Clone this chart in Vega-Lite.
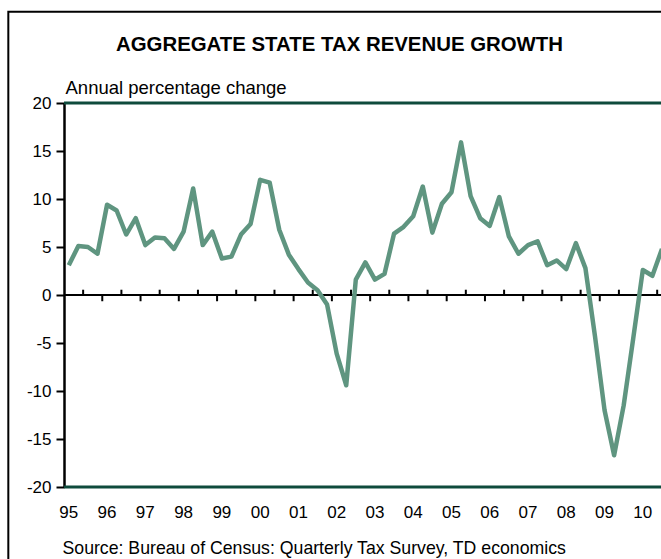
{
  "$schema": "https://vega.github.io/schema/vega-lite/v6.json",
  "autosize": "none",
  "width": 597,
  "height": 384,
  "padding": {"left": 64, "top": 103, "right": 0, "bottom": 72},
  "background": "white",
  "config": {
    "font": "Liberation Sans",
    "view": {"stroke": null},
    "axis": {"labelColor": "black", "titleColor": "black", "labelFont": "Liberation Sans", "titleFont": "Liberation Sans"}
  },
  "title": {
    "text": "AGGREGATE STATE TAX REVENUE GROWTH",
    "font": "Liberation Sans",
    "fontSize": 20.4,
    "fontWeight": "bold",
    "color": "black",
    "anchor": "middle",
    "frame": "group",
    "dx": -23,
    "baseline": "alphabetic",
    "offset": -61
  },
  "datasets": {
    "tax": [
      {"t": 1995.125, "v": 3.1}, {"t": 1995.375, "v": 5.1}, {"t": 1995.625, "v": 5.0}, {"t": 1995.875, "v": 4.3},
      {"t": 1996.125, "v": 9.4}, {"t": 1996.375, "v": 8.8}, {"t": 1996.625, "v": 6.3}, {"t": 1996.875, "v": 8.0},
      {"t": 1997.125, "v": 5.2}, {"t": 1997.375, "v": 6.0}, {"t": 1997.625, "v": 5.9}, {"t": 1997.875, "v": 4.8},
      {"t": 1998.125, "v": 6.6}, {"t": 1998.375, "v": 11.1}, {"t": 1998.625, "v": 5.2}, {"t": 1998.875, "v": 6.6},
      {"t": 1999.125, "v": 3.8}, {"t": 1999.375, "v": 4.0}, {"t": 1999.625, "v": 6.3}, {"t": 1999.875, "v": 7.4},
      {"t": 2000.125, "v": 12.0}, {"t": 2000.375, "v": 11.7}, {"t": 2000.625, "v": 6.8}, {"t": 2000.875, "v": 4.2},
      {"t": 2001.125, "v": 2.7}, {"t": 2001.375, "v": 1.3}, {"t": 2001.625, "v": 0.5}, {"t": 2001.875, "v": -1.0},
      {"t": 2002.125, "v": -6.1}, {"t": 2002.375, "v": -9.4}, {"t": 2002.625, "v": 1.6}, {"t": 2002.875, "v": 3.4},
      {"t": 2003.125, "v": 1.6}, {"t": 2003.375, "v": 2.2}, {"t": 2003.625, "v": 6.4}, {"t": 2003.875, "v": 7.1},
      {"t": 2004.125, "v": 8.2}, {"t": 2004.375, "v": 11.3}, {"t": 2004.625, "v": 6.5}, {"t": 2004.875, "v": 9.5},
      {"t": 2005.125, "v": 10.7}, {"t": 2005.375, "v": 15.9}, {"t": 2005.625, "v": 10.3}, {"t": 2005.875, "v": 8.0},
      {"t": 2006.125, "v": 7.2}, {"t": 2006.375, "v": 10.2}, {"t": 2006.625, "v": 6.1}, {"t": 2006.875, "v": 4.3},
      {"t": 2007.125, "v": 5.2}, {"t": 2007.375, "v": 5.6}, {"t": 2007.625, "v": 3.1}, {"t": 2007.875, "v": 3.6},
      {"t": 2008.125, "v": 2.7}, {"t": 2008.375, "v": 5.4}, {"t": 2008.625, "v": 2.8}, {"t": 2008.875, "v": -4.3},
      {"t": 2009.125, "v": -12.0}, {"t": 2009.375, "v": -16.7}, {"t": 2009.625, "v": -11.5}, {"t": 2009.875, "v": -4.5},
      {"t": 2010.125, "v": 2.6}, {"t": 2010.375, "v": 2.0}, {"t": 2010.625, "v": 4.8}
    ],
    "years": [
      {"t": 1995.125, "lab": "95"}, {"t": 1996.125, "lab": "96"}, {"t": 1997.125, "lab": "97"}, {"t": 1998.125, "lab": "98"},
      {"t": 1999.125, "lab": "99"}, {"t": 2000.125, "lab": "00"}, {"t": 2001.125, "lab": "01"}, {"t": 2002.125, "lab": "02"},
      {"t": 2003.125, "lab": "03"}, {"t": 2004.125, "lab": "04"}, {"t": 2005.125, "lab": "05"}, {"t": 2006.125, "lab": "06"},
      {"t": 2007.125, "lab": "07"}, {"t": 2008.125, "lab": "08"}, {"t": 2009.125, "lab": "09"}, {"t": 2010.125, "lab": "10"}
    ],
    "yearTicks": [
      {"t": 1996}, {"t": 1997}, {"t": 1998}, {"t": 1999}, {"t": 2000}, {"t": 2001}, {"t": 2002}, {"t": 2003},
      {"t": 2004}, {"t": 2005}, {"t": 2006}, {"t": 2007}, {"t": 2008}, {"t": 2009}, {"t": 2010}
    ],
    "halfTicks": [
      {"t": 1995.5}, {"t": 1996.5}, {"t": 1997.5}, {"t": 1998.5}, {"t": 1999.5}, {"t": 2000.5}, {"t": 2001.5}, {"t": 2002.5},
      {"t": 2003.5}, {"t": 2004.5}, {"t": 2005.5}, {"t": 2006.5}, {"t": 2007.5}, {"t": 2008.5}, {"t": 2009.5}, {"t": 2010.5}
    ],
    "one": [{}]
  },
  "layer": [
    {
      "data": {"name": "one"},
      "mark": {"type": "rect", "filled": false, "color": "black", "strokeWidth": 2},
      "encoding": {
        "x": {"datum": 1993.545, "type": "quantitative"},
        "x2": {"datum": 2015},
        "y": {"datum": 29.5, "type": "quantitative"},
        "y2": {"datum": -40}
      }
    },
    {
      "data": {"name": "one"},
      "mark": {"type": "rule", "color": "#0e4b3c", "strokeWidth": 3},
      "encoding": {"y": {"datum": 20, "type": "quantitative"}}
    },
    {
      "data": {"name": "one"},
      "mark": {"type": "rule", "color": "#0e4b3c", "strokeWidth": 3},
      "encoding": {"y": {"datum": -20, "type": "quantitative"}}
    },
    {
      "data": {"name": "one"},
      "mark": {"type": "rule", "color": "black", "strokeWidth": 2},
      "encoding": {"y": {"datum": 0, "type": "quantitative"}}
    },
    {
      "data": {"name": "yearTicks"},
      "mark": {"type": "rule", "color": "black", "strokeWidth": 2},
      "encoding": {
        "x": {"field": "t", "type": "quantitative"},
        "y": {"datum": 0, "type": "quantitative"},
        "y2": {"datum": -0.65}
      }
    },
    {
      "data": {"name": "halfTicks"},
      "mark": {"type": "rule", "color": "black", "strokeWidth": 2},
      "encoding": {
        "x": {"field": "t", "type": "quantitative"},
        "y": {"datum": 0, "type": "quantitative"},
        "y2": {"datum": 0.55}
      }
    },
    {
      "data": {"name": "years"},
      "mark": {"type": "text", "font": "Liberation Sans", "fontSize": 17, "color": "black", "align": "center", "baseline": "middle", "clip": false},
      "encoding": {
        "x": {"field": "t", "type": "quantitative"},
        "y": {"datum": -22.75, "type": "quantitative"},
        "text": {"field": "lab", "type": "nominal"}
      }
    },
    {
      "data": {"name": "tax"},
      "mark": {"type": "line", "color": "#5f9580", "strokeWidth": 4.5, "strokeJoin": "round"},
      "encoding": {
        "x": {
          "field": "t", "type": "quantitative",
          "scale": {"domain": [1995, 2010.6], "nice": false, "zero": false},
          "axis": {
            "orient": "bottom",
            "labels": false,
            "domain": false, "ticks": false, "grid": false,
            "title": "Source: Bureau of Census: Quarterly Tax Survey, TD economics",
            "titleFontSize": 17.7, "titleFontWeight": "normal",
            "titleAnchor": "start", "titleAlign": "left", "titleBaseline": "alphabetic",
            "titleX": -2, "titleY": 66
          }
        },
        "y": {
          "field": "v", "type": "quantitative",
          "scale": {"domain": [-20, 20], "nice": false, "zero": false},
          "axis": {
            "values": [-20, -15, -10, -5, 0, 5, 10, 15, 20],
            "labelExpr": "'' + datum.value",
            "domainColor": "black", "domainWidth": 2.5,
            "tickColor": "black", "tickWidth": 2, "tickSize": 8,
            "labelFontSize": 17, "labelPadding": 5, "grid": false,
            "title": "Annual percentage change",
            "titleAngle": 0, "titleFontSize": 18.5, "titleFontWeight": "normal",
            "titleAlign": "left", "titleBaseline": "alphabetic",
            "titleX": 1, "titleY": -10
          }
        }
      }
    }
  ]
}
